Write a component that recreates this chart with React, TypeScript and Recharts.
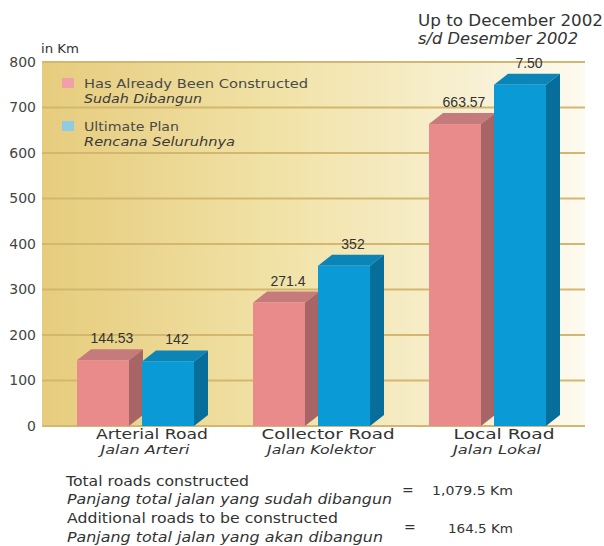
import React from 'react';
import { BarChart, Bar, XAxis, YAxis, CartesianGrid, LabelList, Legend } from 'recharts';

const categories = ['Arterial Road', 'Collector Road', 'Local Road'];
const categoriesLocal = ['Jalan Arteri', 'Jalan Kolektor', 'Jalan Lokal'];
const constructedKm = [144.53, 271.4, 663.57];
const ultimatePlanKm = [142, 352, 750];
const constructedLabels = ['144.53', '271.4', '663.57'];
const ultimateLabels = ['142', '352', '7.50'];
const yTicks = [0, 100, 200, 300, 400, 500, 600, 700, 800];
const seriesNames = ['Has Already Been Constructed', 'Ultimate Plan'];
const seriesNamesLocal = ['Sudah Dibangun', 'Rencana Seluruhnya'];

const data = categories.map((c, i) => ({
  name: c,
  constructed: constructedKm[i],
  ultimate: ultimatePlanKm[i],
  cLabel: constructedLabels[i],
  uLabel: ultimateLabels[i],
}));

const FONT = 'DejaVu Sans, Verdana, sans-serif';
const DX = 14;
const DY = 11;

const PINK = { front: '#e98a8b', top: '#c57a7b', side: '#a86566' };
const BLUE = { front: '#0a9bd7', top: '#0b84b8', side: '#076e9b' };

const tickWidths = [112, 133, 101];
const tickLocalWidths = [89, 108, 88];
const legendWidths = [224, 95];
const legendLocalWidths = [118, 151];

const make3D = (c: any) => (props: any) => {
  const { x, y, width, height } = props;
  if (width == null || height == null) return <g />;
  return (
    <g>
      <polygon
        points={`${x},${y} ${x + DX},${y - DY} ${x + width + DX},${y - DY} ${x + width},${y}`}
        fill={c.top}
      />
      <polygon
        points={`${x + width},${y} ${x + width + DX},${y - DY} ${x + width + DX},${y + height - DY} ${x + width},${y + height}`}
        fill={c.side}
      />
      <rect x={x} y={y} width={width} height={height} fill={c.front} />
    </g>
  );
};

const valueLabel = (props: any) => {
  const { x, y, width, value } = props;
  return (
    <text
      x={x + width / 2 + 9}
      y={y - DY - 6}
      textAnchor="middle"
      fontSize={14}
      fontFamily="Liberation Sans, Arial, sans-serif"
      fill="#333"
    >
      {value}
    </text>
  );
};

const XTick = (props: any) => {
  const { x, y, payload } = props;
  const i = categories.indexOf(payload.value);
  return (
    <g>
      <text x={x + 17 - tickWidths[i] / 2} y={y + 13} fontSize={14} fontFamily={FONT} fill="#333"
        textLength={tickWidths[i]} lengthAdjust="spacingAndGlyphs">
        {payload.value}
      </text>
      <text x={x + 10 - tickLocalWidths[i] / 2} y={y + 28} fontSize={11.5} fontStyle="italic" fontFamily={FONT} fill="#333"
        textLength={tickLocalWidths[i]} lengthAdjust="spacingAndGlyphs">
        {categoriesLocal[i]}
      </text>
    </g>
  );
};

const legendColors = ['#f0a0a6', '#8fcbe2'];
const legendY = [78, 121];

const LegendContent = () => (
  <svg width={320} height={160} style={{ position: 'absolute', left: 0, top: 0 }}>
    {seriesNames.map((n, i) => (
      <g key={n}>
        <rect x={62} y={legendY[i]} width={12} height={10} fill={legendColors[i]} />
        <text x={84} y={legendY[i] + 10} fontSize={13} fontFamily={FONT} fill="#4a4a4a"
          textLength={legendWidths[i]} lengthAdjust="spacingAndGlyphs">
          {n}
        </text>
        <text x={84} y={legendY[i] + 25} fontSize={12.5} fontStyle="italic" fontFamily={FONT} fill="#3a3a3a"
          textLength={legendLocalWidths[i]} lengthAdjust="spacingAndGlyphs">
          {seriesNamesLocal[i]}
        </text>
      </g>
    ))}
  </svg>
);

export default function App() {
  return (
    <div style={{ position: 'absolute', left: 0, top: 0, width: 604, height: 546, background: '#fff' }}>
      <svg width={0} height={0} style={{ position: 'absolute' }}>
        <defs>
          <linearGradient id="bgGrad" x1="0" y1="0" x2="1" y2="0">
            <stop offset="0%" stopColor="#e6cc7d" />
            <stop offset="45%" stopColor="#f1e3a8" />
            <stop offset="80%" stopColor="#f8f0d3" />
            <stop offset="100%" stopColor="#fdfaf0" />
          </linearGradient>
        </defs>
      </svg>
      <BarChart
        width={604}
        height={546}
        data={data}
        margin={{ top: 62, right: 19, bottom: 90, left: 12 }}
        barSize={52}
        barGap={13}
      >
        <CartesianGrid vertical={false} stroke="#d3b76f" strokeWidth={2} fill="url(#bgGrad)" fillOpacity={1} />
        <XAxis
          dataKey="name"
          padding={{ left: 5, right: 10 }}
          tickLine={false}
          axisLine={false}
          tickSize={0}
          tickMargin={0}
          height={30}
          interval={0}
          tick={<XTick />}
        />
        <YAxis
          domain={[0, 800]}
          ticks={yTicks}
          width={30}
          tickLine={false}
          axisLine={false}
          tickSize={0}
          tickMargin={6}
          tick={{ fontSize: 14, fill: '#444', fontFamily: FONT }}
        />
        <Legend
          layout="vertical"
          align="center"
          verticalAlign="middle"
          wrapperStyle={{ position: 'absolute', left: 0, top: 0, width: 320, height: 160 }}
          content={<LegendContent />}
        />
        <Bar dataKey="constructed" name={seriesNames[0]} fill={PINK.front} shape={make3D(PINK)} isAnimationActive={false}>
          <LabelList dataKey="cLabel" content={valueLabel} />
        </Bar>
        <Bar dataKey="ultimate" name={seriesNames[1]} fill={BLUE.front} shape={make3D(BLUE)} isAnimationActive={false}>
          <LabelList dataKey="uLabel" content={valueLabel} />
        </Bar>
      </BarChart>
      <svg width={604} height={546} style={{ position: 'absolute', left: 0, top: 0, pointerEvents: 'none' }} fontFamily={FONT} fill="#333">
        <text x={418} y={26} fontSize={15} textLength={185} lengthAdjust="spacingAndGlyphs">Up to December 2002</text>
        <text x={418} y={44} fontSize={15} fontStyle="italic" textLength={160} lengthAdjust="spacingAndGlyphs">s/d Desember 2002</text>
        <text x={41} y={53} fontSize={13} textLength={38} lengthAdjust="spacingAndGlyphs">in Km</text>
        <text x={66} y={486} fontSize={14} textLength={183} lengthAdjust="spacingAndGlyphs">Total roads constructed</text>
        <text x={67} y={504} fontSize={14} fontStyle="italic" textLength={325} lengthAdjust="spacingAndGlyphs">Panjang total jalan yang sudah dibangun</text>
        <text x={67} y={523} fontSize={14} textLength={271} lengthAdjust="spacingAndGlyphs">Additional roads to be constructed</text>
        <text x={67} y={542} fontSize={14} fontStyle="italic" textLength={316} lengthAdjust="spacingAndGlyphs">Panjang total jalan yang akan dibangun</text>
        <text x={402} y={495} fontSize={14}>=</text>
        <text x={432} y={495} fontSize={13} textLength={81} lengthAdjust="spacingAndGlyphs">1,079.5 Km</text>
        <text x={404} y={532} fontSize={14}>=</text>
        <text x={448} y={533} fontSize={13} textLength={65} lengthAdjust="spacingAndGlyphs">164.5 Km</text>
      </svg>
    </div>
  );
}
